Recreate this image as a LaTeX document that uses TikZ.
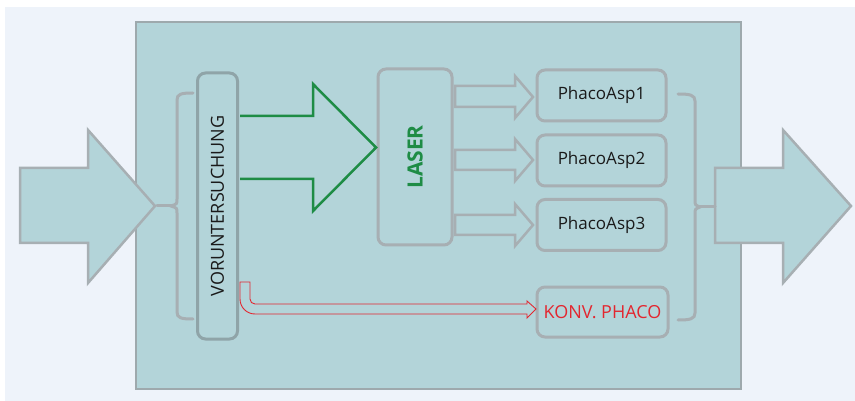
\documentclass[tikz,border=0pt]{standalone}
\usepackage{fontspec}
\setmainfont{Open Sans}
\usepackage{xcolor}
\usetikzlibrary{arrows.meta, positioning, calc}
\definecolor{paper}{HTML}{EEF3FA}
\definecolor{panel}{HTML}{B3D4D9}
\definecolor{frame}{HTML}{9EA9AD}
\definecolor{boxline}{HTML}{A7AFB3}
\definecolor{vorline}{HTML}{8FA4A8}
\definecolor{laserGreen}{HTML}{1E8C45}
\definecolor{konvRed}{HTML}{E3262F}
\definecolor{ink}{HTML}{1A1A1A}

\begin{document}
\begin{tikzpicture}[
  x=1pt, y=-1pt,
  every node/.style={font=\fontsize{17}{20}\selectfont, color=ink},
  pbox/.style={
    draw=boxline, fill=panel, line width=3pt, rounded corners=8pt,
    inner sep=0pt, minimum width=129pt, minimum height=51pt
  },
  vbox/.style={pbox, rotate=90},
  blockarrow/.style={draw=boxline, fill=panel, line width=2.5pt, line join=miter},
  brace/.style={draw=boxline, line width=3pt, line cap=round}
]
\useasboundingbox (0,0) rectangle (855,401);

% background and panel
\fill[paper] (5,7) rectangle (855,401);
\filldraw[fill=panel, draw=frame, line width=2pt] (136,22) rectangle (741,389);

% in and out arrows
\filldraw[blockarrow] (20,168) -- (88,168) -- (88,130) -- (155,206)
  -- (88,283) -- (88,243) -- (20,243) -- cycle;
\filldraw[blockarrow] (715,168) -- (783,168) -- (783,130) -- (851,206)
  -- (783,283) -- (783,243) -- (715,243) -- cycle;

% braces
\draw[brace] (193,93) .. controls (181,93) and (177,94) .. (177,100) -- (177,199)
  .. controls (177,204) .. (171,206) .. controls (177,208) .. (177,213)
  -- (177,312) .. controls (177,318) and (181,319) .. (193,319);
\draw[brace] (157,206) -- (171,206);
\draw[brace] (678,94) .. controls (690,94) and (695,95) .. (695,101) -- (695,200)
  .. controls (695,205) .. (700,207) .. controls (695,209) .. (695,214)
  -- (695,313) .. controls (695,319) and (690,320) .. (678,320);
\draw[brace] (700,207) -- (715,207);

% boxes
\node[vbox, draw=vorline, minimum width=266pt, minimum height=40pt,
  font=\fontsize{18}{20}\selectfont] (vor) at (217.5,206) {VORUNTERSUCHUNG};
\node[vbox, minimum width=176pt, minimum height=74pt,
  font=\fontsize{21}{24}\selectfont\bfseries, text=laserGreen] (laser) at (415,157) {LASER};
\node[pbox] (ph1) at (601.5,95.5) {PhacoAsp1};
\node[pbox] (ph2) at (601.5,160.5) {PhacoAsp2};
\node[pbox] (ph3) at (601.5,225) {PhacoAsp3};
\node[pbox, minimum width=131pt, minimum height=50pt, text=konvRed,
  font=\fontsize{18}{20}\selectfont] (konv) at (602.5,312) {KONV. PHACO};

% green arrow to laser
\filldraw[fill=panel, draw=laserGreen, line width=2.5pt, line join=miter]
  (240,116) -- (313,116) -- (313,84) -- (376,147.5) -- (313,211) -- (313,179) -- (240,179);

% small arrows to the phaco boxes
\filldraw[blockarrow] (455,86) -- (515,86) -- (515,76) -- (533,97) -- (515,118) -- (515,107) -- (455,107) -- cycle;
\filldraw[blockarrow] (455,150) -- (515,150) -- (515,139) -- (533,160) -- (515,181) -- (515,170) -- (455,170) -- cycle;
\filldraw[blockarrow] (455,215) -- (515,215) -- (515,204) -- (533,225) -- (515,246) -- (515,235) -- (455,235) -- cycle;

% red connector to konv
\draw[konvRed, line width=0.9pt, line join=miter] (240,282) -- (250,282) -- (250,299)
  .. controls (250,301.8) and (252.2,304) .. (255,304) -- (527,304) -- (527,301)
  -- (536,309) -- (527,318) -- (527,314) -- (255,314)
  .. controls (246.7,314) and (240,307.3) .. (240,299) -- cycle;
\end{tikzpicture}
\end{document}
